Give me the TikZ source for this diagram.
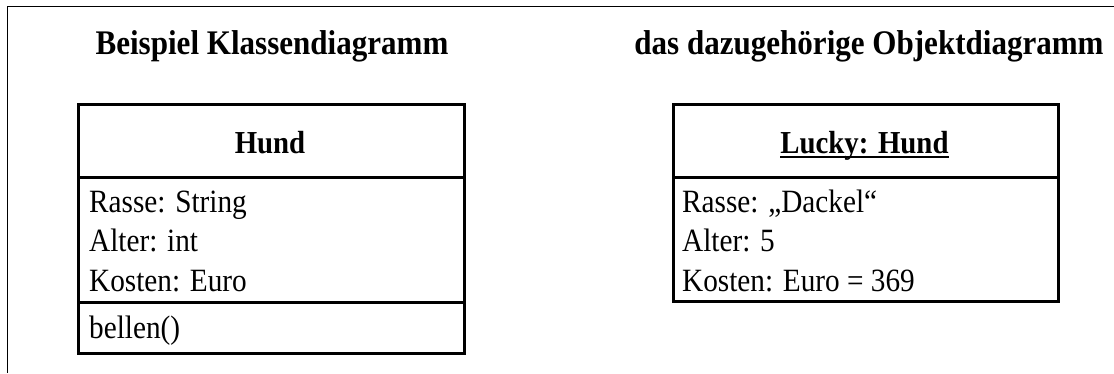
\documentclass[tikz,border=0pt]{standalone}
\usepackage{fontspec}
\setmainfont{Liberation Serif}
\newfontfamily\condfont[FakeStretch=0.9]{Liberation Serif}
\begin{document}
\begin{tikzpicture}[x=1pt,y=-1pt,
  umlpart/.style={draw, line width=3pt, minimum width=386pt, anchor=north west, inner sep=0pt},
  titletext/.style={font=\condfont\fontsize{34.5}{40}\selectfont\bfseries, inner sep=0pt, anchor=base},
  headtext/.style={font=\condfont\fontsize{32}{38}\selectfont\bfseries, inner sep=0pt, anchor=base},
  attrtext/.style={font=\condfont\fontsize{32.5}{38}\selectfont, inner sep=0pt, anchor=base west},
  framestyle/.style={line width=1.5pt}]
\useasboundingbox (0,0) rectangle (1114,373);
% outer frame (partly visible)
\coordinate (ftr) at (1114,6.5);
\coordinate (ftl) at (7.5,6.5);
\coordinate (fbl) at (7.5,373);
\draw[framestyle] (ftr) -- (ftl) -- (fbl);
% titles
\node[titletext] (t1) at (272,54) {Beispiel Klassendiagramm};
\node[titletext] (t2) at (869,54) {das dazugehörige Objektdiagramm};
% class diagram
\node[umlpart, minimum height=73pt] (chead) at (77,103) {};
\node[umlpart, minimum height=125pt] (cattr) at (77,176) {};
\node[umlpart, minimum height=51pt] (cops) at (77,301) {};
\node[headtext] (cname) at (270,153) {Hund};
\node[attrtext] (ca1) at (89,212) {Rasse: String};
\node[attrtext] (ca2) at (89,251) {Alter: int};
\node[attrtext] (ca3) at (89,291) {Kosten: Euro};
\node[attrtext] (co1) at (89,338) {bellen()};
% object diagram
\node[umlpart, minimum width=385pt, minimum height=73pt] (ohead) at (672,103) {};
\node[umlpart, minimum width=385pt, minimum height=124pt] (oattr) at (672,176) {};
\node[headtext] (oname) at (864.5,153) {Lucky: Hund};
\draw[line width=2pt] ([yshift=-4pt]oname.base west) -- ([yshift=-4pt]oname.base east);
\node[attrtext] (oa1) at (682,212) {Rasse: „Dackel“};
\node[attrtext] (oa2) at (682,251) {Alter: 5};
\node[attrtext] (oa3) at (682,291) {Kosten: Euro = 369};
\end{tikzpicture}
\end{document}
